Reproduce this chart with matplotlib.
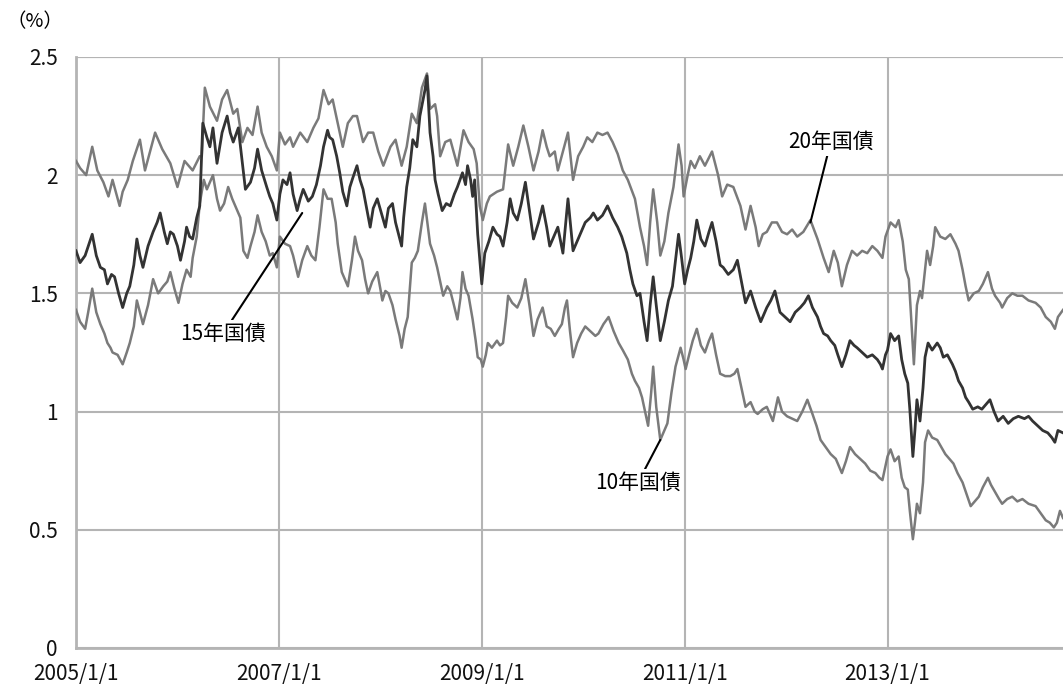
import matplotlib
matplotlib.use("Agg")
import matplotlib.pyplot as plt

plt.rcParams['font.family'] = ['Noto Sans CJK JP', 'DejaVu Sans']

# ---- data (decimal year, yield %) ----
y20_t = [2005.00, 2005.04, 2005.10, 2005.16, 2005.21, 2005.27, 2005.32, 2005.36, 2005.43, 2005.46,
         2005.51, 2005.56, 2005.63, 2005.68, 2005.73, 2005.78, 2005.85, 2005.93, 2006.00, 2006.07,
         2006.15, 2006.22, 2006.24, 2006.27, 2006.32, 2006.39, 2006.44, 2006.49, 2006.55, 2006.59,
         2006.64, 2006.69, 2006.74, 2006.79, 2006.83, 2006.88, 2006.93, 2006.98, 2007.01, 2007.06,
         2007.11, 2007.14, 2007.21, 2007.28, 2007.34, 2007.39, 2007.44, 2007.49, 2007.53, 2007.58,
         2007.63, 2007.68, 2007.73, 2007.77, 2007.83, 2007.88, 2007.93, 2007.98, 2008.03, 2008.10,
         2008.15, 2008.21, 2008.26, 2008.31, 2008.36, 2008.41, 2008.46, 2008.49, 2008.54, 2008.56,
         2008.59, 2008.64, 2008.69, 2008.76, 2008.82, 2008.87, 2008.92, 2008.95, 2008.98, 2009.01,
         2009.05, 2009.08, 2009.15, 2009.21, 2009.26, 2009.31, 2009.36, 2009.41, 2009.46, 2009.51,
         2009.56, 2009.60, 2009.64, 2009.67, 2009.72, 2009.75, 2009.80, 2009.85, 2009.90, 2009.95,
         2010.00, 2010.04, 2010.09, 2010.14, 2010.19, 2010.24, 2010.29, 2010.34, 2010.39, 2010.44,
         2010.51, 2010.56, 2010.60, 2010.63, 2010.66, 2010.69, 2010.73, 2010.76, 2010.80, 2010.84,
         2010.89, 2010.94, 2010.97, 2010.99, 2011.03, 2011.06, 2011.10, 2011.15, 2011.20, 2011.27,
         2011.33, 2011.37, 2011.42, 2011.48, 2011.55, 2011.60, 2011.65, 2011.70, 2011.73, 2011.77,
         2011.81, 2011.86, 2011.91, 2011.96, 2012.01, 2012.06, 2012.11, 2012.17, 2012.24, 2012.31,
         2012.37, 2012.42, 2012.47, 2012.51, 2012.55, 2012.60, 2012.65, 2012.70, 2012.75, 2012.80,
         2012.85, 2012.90, 2012.95, 2012.98, 2013.03, 2013.08, 2013.11, 2013.15, 2013.18, 2013.21,
         2013.23, 2013.26, 2013.29, 2013.32, 2013.34, 2013.37, 2013.39, 2013.42, 2013.45, 2013.47,
         2013.52, 2013.57, 2013.62, 2013.67, 2013.70, 2013.74, 2013.77, 2013.80, 2013.85, 2013.90,
         2013.94, 2013.99, 2014.03, 2014.06, 2014.11, 2014.13, 2014.18, 2014.23, 2014.28, 2014.33,
         2014.39, 2014.46, 2014.51, 2014.56, 2014.61, 2014.65, 2014.68, 2014.73]
y20_v = [2.06, 2.03, 2.00, 2.12, 2.02, 1.97, 1.91, 1.98, 1.87, 1.93,
         1.98, 2.06, 2.15, 2.02, 2.10, 2.18, 2.11, 2.05, 1.95, 2.06,
         2.02, 2.08, 2.08, 2.37, 2.29, 2.23, 2.32, 2.36, 2.26, 2.28,
         2.14, 2.20, 2.17, 2.29, 2.18, 2.12, 2.08, 2.02, 2.18, 2.13,
         2.16, 2.12, 2.18, 2.14, 2.20, 2.24, 2.36, 2.30, 2.32, 2.22,
         2.12, 2.22, 2.25, 2.25, 2.14, 2.18, 2.18, 2.10, 2.04, 2.12,
         2.15, 2.04, 2.12, 2.26, 2.22, 2.37, 2.43, 2.28, 2.30, 2.25,
         2.08, 2.14, 2.15, 2.04, 2.19, 2.14, 2.11, 2.05, 1.87, 1.81,
         1.88, 1.91, 1.93, 1.94, 2.13, 2.04, 2.12, 2.21, 2.12, 2.02,
         2.10, 2.19, 2.12, 2.08, 2.10, 2.02, 2.10, 2.18, 1.98, 2.08,
         2.12, 2.16, 2.14, 2.18, 2.17, 2.18, 2.14, 2.09, 2.02, 1.98,
         1.90, 1.78, 1.70, 1.62, 1.80, 1.94, 1.80, 1.66, 1.72, 1.84,
         1.95, 2.13, 2.04, 1.91, 2.00, 2.06, 2.03, 2.08, 2.04, 2.10,
         2.00, 1.91, 1.96, 1.95, 1.87, 1.77, 1.87, 1.78, 1.70, 1.75,
         1.76, 1.80, 1.80, 1.76, 1.75, 1.77, 1.74, 1.76, 1.81, 1.73,
         1.65, 1.59, 1.68, 1.63, 1.53, 1.62, 1.68, 1.66, 1.68, 1.67,
         1.70, 1.68, 1.65, 1.74, 1.80, 1.78, 1.81, 1.72, 1.60, 1.56,
         1.42, 1.20, 1.45, 1.51, 1.48, 1.60, 1.68, 1.62, 1.70, 1.78,
         1.74, 1.73, 1.75, 1.71, 1.68, 1.60, 1.53, 1.47, 1.50, 1.51,
         1.54, 1.59, 1.52, 1.49, 1.46, 1.44, 1.48, 1.50, 1.49, 1.49,
         1.47, 1.46, 1.44, 1.40, 1.38, 1.35, 1.40, 1.43]

y15_t = [2005.00, 2005.04, 2005.09, 2005.16, 2005.20, 2005.24, 2005.28, 2005.31, 2005.35, 2005.38,
         2005.42, 2005.46, 2005.50, 2005.53, 2005.57, 2005.60, 2005.63, 2005.66, 2005.71, 2005.76,
         2005.80, 2005.83, 2005.87, 2005.90, 2005.93, 2005.96, 2006.00, 2006.03, 2006.07, 2006.09,
         2006.12, 2006.15, 2006.19, 2006.22, 2006.25, 2006.29, 2006.32, 2006.35, 2006.39, 2006.44,
         2006.49, 2006.52, 2006.55, 2006.60, 2006.64, 2006.67, 2006.72, 2006.76, 2006.79, 2006.83,
         2006.88, 2006.91, 2006.94, 2006.98, 2007.01, 2007.04, 2007.08, 2007.11, 2007.14, 2007.18,
         2007.21, 2007.24, 2007.29, 2007.33, 2007.37, 2007.41, 2007.44, 2007.48, 2007.50, 2007.53,
         2007.57, 2007.60, 2007.63, 2007.67, 2007.70, 2007.73, 2007.77, 2007.80, 2007.83, 2007.87,
         2007.90, 2007.93, 2007.97, 2008.01, 2008.05, 2008.08, 2008.12, 2008.15, 2008.18, 2008.21,
         2008.23, 2008.26, 2008.29, 2008.32, 2008.36, 2008.39, 2008.44, 2008.46, 2008.49, 2008.52,
         2008.54, 2008.57, 2008.61, 2008.65, 2008.69, 2008.73, 2008.76, 2008.81, 2008.84, 2008.86,
         2008.89, 2008.91, 2008.93, 2008.96, 2009.00, 2009.03, 2009.07, 2009.11, 2009.15, 2009.18,
         2009.21, 2009.25, 2009.28, 2009.31, 2009.35, 2009.39, 2009.43, 2009.47, 2009.51, 2009.56,
         2009.60, 2009.64, 2009.67, 2009.71, 2009.75, 2009.80, 2009.85, 2009.90, 2009.94, 2009.97,
         2010.02, 2010.07, 2010.10, 2010.14, 2010.19, 2010.24, 2010.29, 2010.34, 2010.38, 2010.43,
         2010.46, 2010.49, 2010.53, 2010.56, 2010.60, 2010.63, 2010.66, 2010.69, 2010.72, 2010.76,
         2010.80, 2010.84, 2010.88, 2010.91, 2010.94, 2010.97, 2011.00, 2011.03, 2011.06, 2011.09,
         2011.12, 2011.16, 2011.20, 2011.24, 2011.27, 2011.31, 2011.35, 2011.38, 2011.43, 2011.48,
         2011.52, 2011.56, 2011.60, 2011.65, 2011.70, 2011.75, 2011.79, 2011.81, 2011.85, 2011.89,
         2011.94, 2011.99, 2012.04, 2012.09, 2012.14, 2012.18, 2012.22, 2012.26, 2012.31, 2012.34,
         2012.37, 2012.41, 2012.44, 2012.48, 2012.51, 2012.55, 2012.59, 2012.63, 2012.67, 2012.70,
         2012.75, 2012.80, 2012.85, 2012.90, 2012.93, 2012.95, 2012.98, 2013.00, 2013.03, 2013.07,
         2013.11, 2013.14, 2013.17, 2013.20, 2013.22, 2013.25, 2013.27, 2013.29, 2013.32, 2013.35,
         2013.37, 2013.40, 2013.44, 2013.49, 2013.52, 2013.55, 2013.59, 2013.64, 2013.67, 2013.70,
         2013.74, 2013.77, 2013.80, 2013.84, 2013.89, 2013.93, 2013.97, 2014.01, 2014.05, 2014.09,
         2014.14, 2014.19, 2014.24, 2014.29, 2014.35, 2014.39, 2014.43, 2014.48, 2014.53, 2014.58,
         2014.62, 2014.65, 2014.68, 2014.73]
y15_v = [1.68, 1.63, 1.66, 1.75, 1.66, 1.61, 1.60, 1.54, 1.58, 1.57,
         1.50, 1.44, 1.50, 1.53, 1.62, 1.73, 1.66, 1.61, 1.70, 1.76,
         1.80, 1.84, 1.76, 1.71, 1.76, 1.75, 1.70, 1.64, 1.72, 1.78,
         1.74, 1.73, 1.82, 1.87, 2.22, 2.16, 2.12, 2.20, 2.05, 2.18,
         2.25, 2.18, 2.14, 2.20, 2.05, 1.94, 1.97, 2.03, 2.11, 2.02,
         1.95, 1.91, 1.88, 1.81, 1.92, 1.98, 1.96, 2.01, 1.92, 1.85,
         1.90, 1.94, 1.89, 1.91, 1.96, 2.04, 2.12, 2.19, 2.16, 2.15,
         2.08, 2.01, 1.93, 1.87, 1.95, 1.99, 2.04, 1.98, 1.94, 1.85,
         1.78, 1.86, 1.90, 1.84, 1.78, 1.86, 1.88, 1.80, 1.75, 1.70,
         1.82, 1.95, 2.03, 2.15, 2.12, 2.25, 2.36, 2.42, 2.18, 2.08,
         1.98, 1.92, 1.85, 1.88, 1.87, 1.92, 1.95, 2.01, 1.96, 2.04,
         1.98, 1.91, 1.98, 1.75, 1.54, 1.67, 1.72, 1.78, 1.75, 1.74,
         1.70, 1.80, 1.90, 1.84, 1.81, 1.88, 1.97, 1.85, 1.73, 1.80,
         1.87, 1.78, 1.70, 1.74, 1.78, 1.67, 1.90, 1.68, 1.72, 1.75,
         1.80, 1.82, 1.84, 1.81, 1.83, 1.87, 1.82, 1.78, 1.74, 1.67,
         1.60, 1.54, 1.49, 1.50, 1.38, 1.30, 1.45, 1.57, 1.45, 1.30,
         1.38, 1.47, 1.53, 1.64, 1.75, 1.65, 1.54, 1.60, 1.65, 1.72,
         1.81, 1.73, 1.70, 1.76, 1.80, 1.72, 1.62, 1.61, 1.58, 1.60,
         1.64, 1.55, 1.46, 1.51, 1.44, 1.38, 1.42, 1.44, 1.47, 1.51,
         1.42, 1.40, 1.38, 1.42, 1.44, 1.46, 1.49, 1.44, 1.40, 1.36,
         1.33, 1.32, 1.30, 1.28, 1.24, 1.19, 1.24, 1.30, 1.28, 1.27,
         1.25, 1.23, 1.24, 1.22, 1.20, 1.18, 1.24, 1.26, 1.33, 1.30,
         1.32, 1.22, 1.16, 1.12, 1.01, 0.81, 0.92, 1.05, 0.96, 1.10,
         1.23, 1.29, 1.26, 1.29, 1.27, 1.23, 1.24, 1.20, 1.17, 1.13,
         1.10, 1.06, 1.04, 1.01, 1.02, 1.01, 1.03, 1.05, 1.00, 0.96,
         0.98, 0.95, 0.97, 0.98, 0.97, 0.98, 0.96, 0.94, 0.92, 0.91,
         0.89, 0.87, 0.92, 0.91]

y10_t = [2005.00, 2005.04, 2005.09, 2005.12, 2005.16, 2005.20, 2005.24, 2005.28, 2005.31, 2005.34,
         2005.36, 2005.41, 2005.46, 2005.50, 2005.53, 2005.57, 2005.60, 2005.63, 2005.66, 2005.71,
         2005.76, 2005.81, 2005.86, 2005.90, 2005.93, 2005.97, 2006.01, 2006.05, 2006.09, 2006.13,
         2006.15, 2006.19, 2006.22, 2006.26, 2006.29, 2006.32, 2006.35, 2006.39, 2006.42, 2006.46,
         2006.50, 2006.54, 2006.59, 2006.62, 2006.65, 2006.69, 2006.72, 2006.76, 2006.79, 2006.83,
         2006.87, 2006.91, 2006.94, 2006.98, 2007.01, 2007.06, 2007.11, 2007.14, 2007.19, 2007.23,
         2007.28, 2007.32, 2007.36, 2007.40, 2007.44, 2007.48, 2007.52, 2007.56, 2007.58, 2007.62,
         2007.66, 2007.68, 2007.72, 2007.75, 2007.78, 2007.82, 2007.85, 2007.88, 2007.92, 2007.97,
         2008.00, 2008.02, 2008.05, 2008.08, 2008.12, 2008.15, 2008.19, 2008.21, 2008.24, 2008.27,
         2008.31, 2008.34, 2008.37, 2008.41, 2008.44, 2008.47, 2008.49, 2008.53, 2008.56, 2008.59,
         2008.62, 2008.66, 2008.69, 2008.72, 2008.76, 2008.79, 2008.81, 2008.84, 2008.87, 2008.91,
         2008.94, 2008.96, 2008.99, 2009.01, 2009.04, 2009.06, 2009.10, 2009.15, 2009.18, 2009.21,
         2009.24, 2009.26, 2009.30, 2009.35, 2009.39, 2009.43, 2009.47, 2009.51, 2009.55, 2009.60,
         2009.64, 2009.68, 2009.72, 2009.76, 2009.79, 2009.82, 2009.84, 2009.87, 2009.90, 2009.94,
         2009.98, 2010.02, 2010.07, 2010.12, 2010.15, 2010.20, 2010.25, 2010.30, 2010.35, 2010.39,
         2010.44, 2010.48, 2010.51, 2010.55, 2010.58, 2010.61, 2010.64, 2010.67, 2010.69, 2010.72,
         2010.76, 2010.80, 2010.83, 2010.87, 2010.91, 2010.96, 2010.99, 2011.01, 2011.05, 2011.08,
         2011.12, 2011.16, 2011.20, 2011.24, 2011.27, 2011.31, 2011.35, 2011.40, 2011.45, 2011.49,
         2011.52, 2011.56, 2011.60, 2011.65, 2011.69, 2011.72, 2011.77, 2011.81, 2011.84, 2011.87,
         2011.92, 2011.96, 2012.01, 2012.06, 2012.11, 2012.16, 2012.21, 2012.26, 2012.30, 2012.34,
         2012.39, 2012.44, 2012.49, 2012.51, 2012.55, 2012.59, 2012.63, 2012.68, 2012.73, 2012.78,
         2012.83, 2012.88, 2012.92, 2012.95, 2012.98, 2013.00, 2013.03, 2013.07, 2013.11, 2013.14,
         2013.17, 2013.20, 2013.22, 2013.25, 2013.27, 2013.29, 2013.32, 2013.35, 2013.37, 2013.40,
         2013.44, 2013.49, 2013.53, 2013.57, 2013.61, 2013.65, 2013.69, 2013.74, 2013.78, 2013.82,
         2013.86, 2013.90, 2013.94, 2013.99, 2014.02, 2014.06, 2014.10, 2014.13, 2014.18, 2014.23,
         2014.28, 2014.33, 2014.39, 2014.46, 2014.51, 2014.56, 2014.60, 2014.64, 2014.67, 2014.70,
         2014.73]
y10_v = [1.43, 1.38, 1.35, 1.42, 1.52, 1.42, 1.37, 1.33, 1.29, 1.27,
         1.25, 1.24, 1.20, 1.25, 1.29, 1.36, 1.47, 1.42, 1.37, 1.45,
         1.56, 1.50, 1.53, 1.55, 1.59, 1.52, 1.46, 1.54, 1.60, 1.57,
         1.65, 1.74, 1.88, 1.98, 1.94, 1.97, 2.00, 1.90, 1.85, 1.88,
         1.95, 1.90, 1.85, 1.82, 1.68, 1.65, 1.70, 1.76, 1.83, 1.76,
         1.72, 1.66, 1.67, 1.61, 1.74, 1.71, 1.70, 1.66, 1.57, 1.64,
         1.70, 1.66, 1.64, 1.78, 1.94, 1.90, 1.90, 1.80, 1.71, 1.59,
         1.55, 1.53, 1.64, 1.74, 1.68, 1.64, 1.56, 1.50, 1.55, 1.59,
         1.52, 1.47, 1.51, 1.50, 1.45, 1.39, 1.32, 1.27, 1.35, 1.40,
         1.63, 1.65, 1.68, 1.80, 1.88, 1.78, 1.71, 1.66, 1.61, 1.55,
         1.49, 1.53, 1.51, 1.46, 1.39, 1.48, 1.59, 1.52, 1.49, 1.39,
         1.30, 1.23, 1.22, 1.19, 1.24, 1.29, 1.27, 1.30, 1.28, 1.29,
         1.40, 1.49, 1.46, 1.44, 1.48, 1.56, 1.45, 1.32, 1.39, 1.44,
         1.36, 1.35, 1.32, 1.35, 1.37, 1.44, 1.47, 1.34, 1.23, 1.29,
         1.33, 1.36, 1.34, 1.32, 1.33, 1.37, 1.40, 1.34, 1.29, 1.26,
         1.22, 1.16, 1.13, 1.10, 1.06, 1.00, 0.94, 1.08, 1.19, 1.02,
         0.88, 0.92, 0.95, 1.08, 1.19, 1.27, 1.22, 1.18, 1.25, 1.30,
         1.35, 1.28, 1.25, 1.30, 1.33, 1.24, 1.16, 1.15, 1.15, 1.16,
         1.18, 1.10, 1.02, 1.04, 1.00, 0.99, 1.01, 1.02, 0.99, 0.96,
         1.06, 1.00, 0.98, 0.97, 0.96, 1.00, 1.05, 0.99, 0.94, 0.88,
         0.85, 0.82, 0.80, 0.78, 0.74, 0.79, 0.85, 0.82, 0.80, 0.78,
         0.75, 0.74, 0.72, 0.71, 0.77, 0.81, 0.84, 0.79, 0.81, 0.72,
         0.68, 0.67, 0.58, 0.46, 0.53, 0.61, 0.57, 0.70, 0.87, 0.92,
         0.89, 0.88, 0.85, 0.82, 0.80, 0.78, 0.74, 0.70, 0.65, 0.60,
         0.62, 0.64, 0.68, 0.72, 0.69, 0.66, 0.63, 0.61, 0.63, 0.64,
         0.62, 0.63, 0.61, 0.60, 0.57, 0.54, 0.53, 0.51, 0.53, 0.58,
         0.55]

x_ticks = [2005, 2007, 2009, 2011, 2013]
x_labels = ["2005/1/1", "2007/1/1", "2009/1/1", "2011/1/1", "2013/1/1"]
y_ticks = [0, 0.5, 1, 1.5, 2, 2.5]
y_labels = ["0", "0.5", "1", "1.5", "2", "2.5"]

GRID = "#b4b4b4"
GREY = "#7a7a7a"
DARK = "#333333"

fig = plt.figure(figsize=(10.63, 6.87), dpi=100)
ax = fig.add_axes([0.0715, 0.0568, 0.9285, 0.8603])

ax.plot(y10_t, y10_v, color=GREY, lw=1.8, zorder=3)
ax.plot(y20_t, y20_v, color=GREY, lw=1.8, zorder=3)
ax.plot(y15_t, y15_v, color=DARK, lw=2.0, zorder=4)

ax.set_xlim(2005.0, 2014.73)
ax.set_ylim(0, 2.5)
ax.set_xticks(x_ticks)
ax.set_xticklabels(x_labels)
ax.set_yticks(y_ticks)
ax.set_yticklabels(y_labels)
ax.tick_params(length=0, labelsize=15, colors="#111111")
ax.tick_params(axis="y", pad=13)
ax.tick_params(axis="x", pad=11)
ax.grid(True, color=GRID, lw=1.5, zorder=1)
ax.axhline(2.5, color=GRID, lw=1.5, zorder=1)
for s in ["top", "right"]:
    ax.spines[s].set_visible(False)
for s in ["left", "bottom"]:
    ax.spines[s].set_color(GRID)
    ax.spines[s].set_linewidth(2)

fig.text(0.006, 0.968, "（%）", fontsize=14, ha="left", va="center")

box = dict(boxstyle="square,pad=0.12", fc="white", ec="none")
line = dict(arrowstyle="-", color="black", lw=1.5, shrinkA=0, shrinkB=0)
ax.annotate("15年国債", xy=(2007.23, 1.84), xytext=(2006.45, 1.33),
            fontsize=15, ha="center", va="center", bbox=box, arrowprops=line, zorder=6)
ax.annotate("20年国債", xy=(2012.24, 1.80), xytext=(2012.44, 2.14),
            fontsize=15, ha="center", va="center", bbox=box, arrowprops=line, zorder=6)
ax.annotate("10年国債", xy=(2010.76, 0.88), xytext=(2010.54, 0.70),
            fontsize=15, ha="center", va="center", bbox=box, arrowprops=line, zorder=6)

fig.savefig("out.png", dpi=100)
